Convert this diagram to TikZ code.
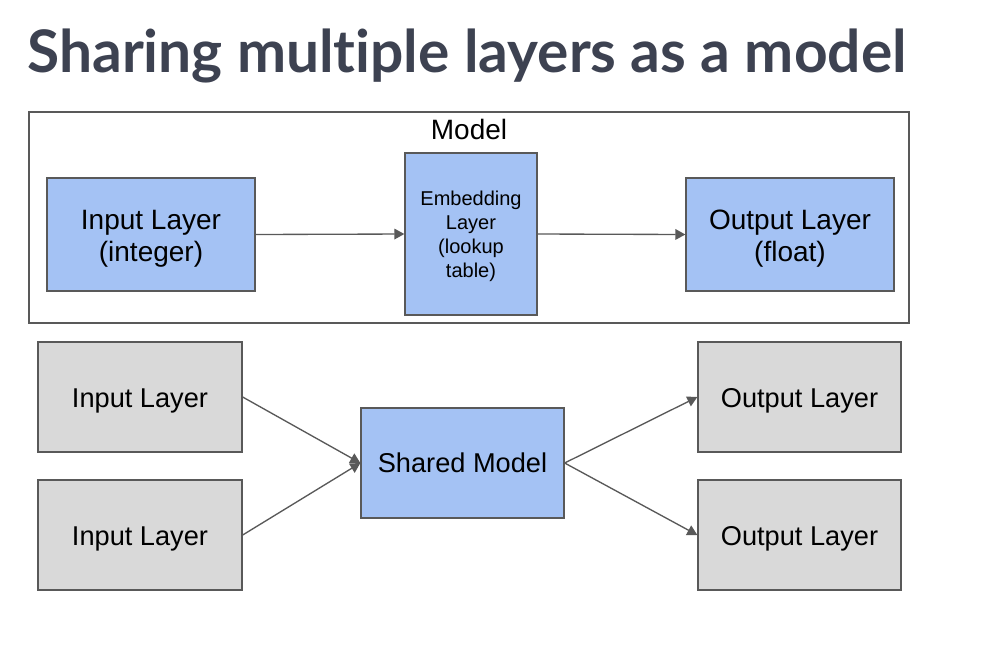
\documentclass[tikz,border=0pt]{standalone}
\usepackage{fontspec}
\setmainfont{Liberation Sans}
\newfontfamily\titlefont[Ligatures=NoCommon]{Lato}
\usetikzlibrary{arrows.meta}
\definecolor{titlecol}{HTML}{3D4251}
\definecolor{bluefill}{HTML}{A4C2F4}
\definecolor{grayfill}{HTML}{D9D9D9}
\definecolor{edgecol}{HTML}{595959}
\newcommand{\dropby}[2]{\raisebox{-#1}[\height][\depth]{\begin{tabular}{@{}c@{}}#2\end{tabular}}}
\tikzset{
  bluebox/.style={draw=edgecol, line width=1pt, fill=bluefill, align=center, inner sep=0pt},
  graybox/.style={draw=edgecol, line width=1pt, fill=grayfill, align=center, inner sep=0pt},
  wide/.style={minimum width=156pt, minimum height=84.75pt},
  lower/.style={minimum width=153pt, minimum height=82.5pt},
  bigtext/.style={font=\fontsize{21}{24.5}\selectfont},
  midtext/.style={font=\fontsize{20.4}{24.5}\selectfont},
  smalltext/.style={font=\fontsize{15}{18}\selectfont},
  conn/.style={draw=edgecol, line width=1pt, -{Triangle[length=7.5pt, width=8pt]}}
}
\begin{document}
\begin{tikzpicture}[x=0.75pt, y=-0.75pt]
\useasboundingbox (0,0) rectangle (984,658);
\fill[white] (0,0) rectangle (984,658);
\node[anchor=base west, inner sep=0pt, text=titlecol, font=\titlefont\bfseries\fontsize{44}{50}\selectfont] (title) at (27,72) {Sharing multiple layers as a model};
\node[draw=edgecol, line width=1pt, minimum width=660pt, minimum height=158.25pt, inner sep=0pt] (model) at (469,217.5) {};
\node[anchor=base, inner sep=0pt, bigtext] (modellabel) at (469,139) {Model};
\node[bluebox, wide, bigtext] (inint) at (151,234.5) {\dropby{3.4pt}{Input Layer\\(integer)}};
\node[bluebox, minimum width=99pt, minimum height=121.5pt, smalltext] (emb) at (471,234) {\dropby{2.25pt}{Embedding\\Layer\\(lookup\\table)}};
\node[bluebox, wide, bigtext] (outfl) at (790,234.5) {\dropby{3.4pt}{Output Layer\\(float)}};
\draw[conn] (inint.east) -- (emb.west);
\draw[conn] (emb.east) -- (outfl.west);
\node[graybox, lower, midtext] (in1) at (140,397) {\dropby{3pt}{Input Layer}};
\node[graybox, lower, midtext] (in2) at (140,535) {\dropby{3pt}{Input Layer}};
\node[bluebox, minimum width=152.25pt, minimum height=82.5pt, midtext] (shared) at (462.5,463) {\dropby{2pt}{Shared Model}};
\node[graybox, minimum width=152.25pt, minimum height=82.5pt, midtext] (out1) at (799.5,397) {\dropby{3pt}{Output Layer}};
\node[graybox, minimum width=152.25pt, minimum height=82.5pt, midtext] (out2) at (799.5,535) {\dropby{3pt}{Output Layer}};
\draw[conn] (in1.east) -- (shared.west);
\draw[conn] (in2.east) -- (shared.west);
\draw[conn] (shared.east) -- (out1.west);
\draw[conn] (shared.east) -- (out2.west);
\end{tikzpicture}
\end{document}
